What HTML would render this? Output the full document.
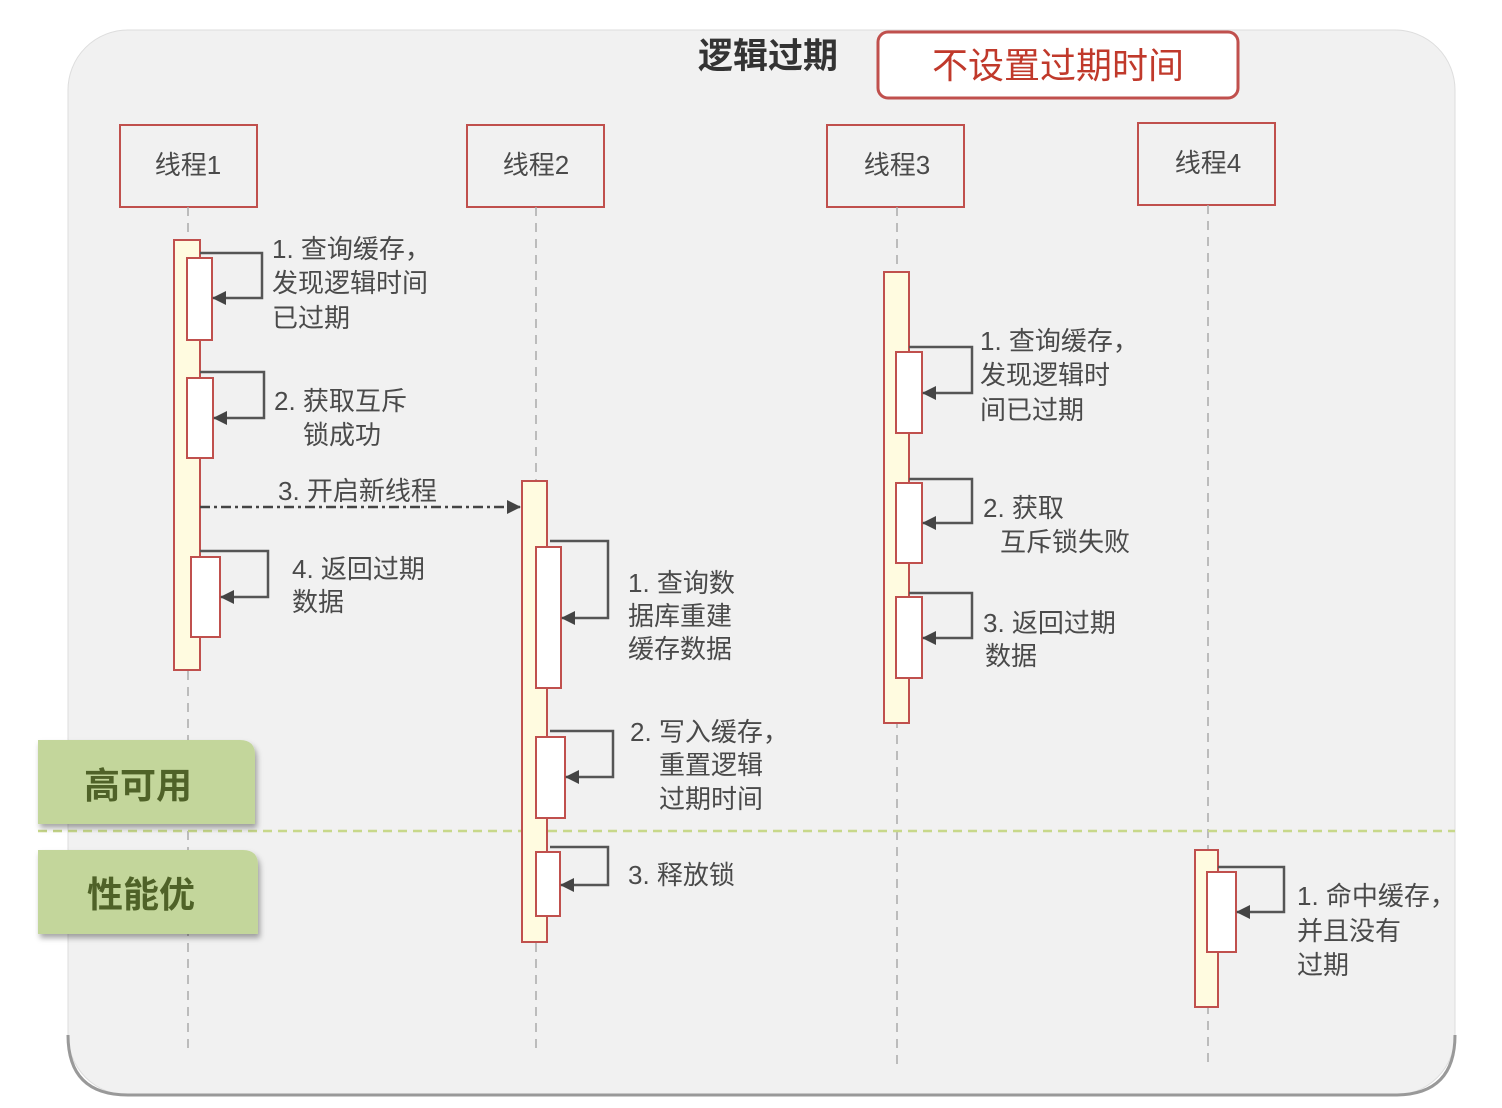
<!DOCTYPE html>
<html><head><meta charset="utf-8"><style>
html,body{margin:0;padding:0;background:#fff;}
svg{display:block;}
text{font-family:"Liberation Sans","Noto Sans CJK SC",sans-serif;}
.t{fill:#4a4a4a;font-size:26px;}
.hd{fill:#4a4a4a;font-size:26px;}
</style></head><body>
<svg width="1502" height="1108" viewBox="0 0 1502 1108" xmlns="http://www.w3.org/2000/svg">
<defs>
<marker id="ah" markerWidth="14" markerHeight="14" refX="13" refY="7" orient="auto" markerUnits="userSpaceOnUse"><path d="M0,0 L14,7 L0,14 z" fill="#444"/></marker>
<filter id="sh" x="-10%" y="-10%" width="130%" height="140%"><feDropShadow dx="2" dy="4" stdDeviation="3" flood-color="#000" flood-opacity="0.35"/></filter>
</defs>
<rect x="0" y="0" width="1502" height="1108" fill="#fff"/>
<rect x="68" y="30" width="1387" height="1065" rx="60" fill="#f1f1f1" stroke="#ddd" stroke-width="1"/>
<path d="M68,1035 Q68,1095 128,1095 L1395,1095 Q1455,1095 1455,1035" fill="none" stroke="#999" stroke-width="3"/>

<text x="698" y="68" font-size="35" font-weight="bold" fill="#333">逻辑过期</text>
<rect x="878" y="32" width="360" height="66" rx="10" fill="#fff" stroke="#c0504d" stroke-width="3"/>
<text x="1058" y="78" font-size="36" fill="#c0392b" text-anchor="middle">不设置过期时间</text>

<g fill="#f1f1f1" stroke="#c0504d" stroke-width="2">
<rect x="120" y="125" width="137" height="82"/>
<rect x="467" y="125" width="137" height="82"/>
<rect x="827" y="125" width="137" height="82"/>
<rect x="1138" y="123" width="137" height="82"/>
</g>
<text class="hd" x="188" y="174" text-anchor="middle">线程1</text>
<text class="hd" x="536" y="174" text-anchor="middle">线程2</text>
<text class="hd" x="897" y="174" text-anchor="middle">线程3</text>
<text class="hd" x="1208" y="172" text-anchor="middle">线程4</text>

<g stroke="#aaa" stroke-width="1.5" stroke-dasharray="9,7">
<line x1="188" y1="207" x2="188" y2="1048"/>
<line x1="536" y1="207" x2="536" y2="1048"/>
<line x1="897" y1="207" x2="897" y2="1065"/>
<line x1="1208" y1="205" x2="1208" y2="1065"/>
</g>

<line x1="38" y1="831" x2="1455" y2="831" stroke="#c8d88a" stroke-width="2.5" stroke-dasharray="9,6"/>

<g fill="#fffbe0" stroke="#c0504d" stroke-width="2">
<rect x="174" y="240" width="26" height="430"/>
<rect x="522" y="481" width="25" height="461"/>
<rect x="884" y="272" width="25" height="451"/>
<rect x="1195" y="850" width="23" height="157"/>
</g>
<g fill="#fff" stroke="#c0504d" stroke-width="2">
<rect x="187" y="258" width="25" height="82"/>
<rect x="187" y="378" width="26" height="80"/>
<rect x="191" y="557" width="29" height="80"/>
<rect x="536" y="547" width="25" height="141"/>
<rect x="536" y="737" width="29" height="81"/>
<rect x="536" y="852" width="24" height="64"/>
<rect x="896" y="352" width="26" height="81"/>
<rect x="896" y="483" width="26" height="80"/>
<rect x="896" y="597" width="26" height="81"/>
<rect x="1207" y="872" width="29" height="80"/>
</g>

<g fill="none" stroke="#555" stroke-width="2.5" marker-end="url(#ah)">
<path d="M200,253 H262 V298 H213"/>
<path d="M200,372 H264 V418 H214"/>
<path d="M200,551 H268 V597 H221"/>
<path d="M550,541 H608 V618 H562"/>
<path d="M550,731 H613 V777 H566"/>
<path d="M550,847 H608 V885 H561"/>
<path d="M909,347 H972 V393 H923"/>
<path d="M909,479 H972 V523 H923"/>
<path d="M909,593 H972 V638 H923"/>
<path d="M1218,867 H1284 V912 H1237"/>
</g>

<line x1="200" y1="507" x2="520" y2="507" stroke="#444" stroke-width="2.5" stroke-dasharray="10,4,3,4" marker-end="url(#ah)"/>
<text class="t" x="278" y="500">3. 开启新线程</text>

<text class="t"><tspan x="272" y="258">1. 查询缓存，</tspan><tspan x="272" y="292">发现逻辑时间</tspan><tspan x="272" y="327">已过期</tspan></text>
<text class="t"><tspan x="274" y="410">2. 获取互斥</tspan><tspan x="303" y="444">锁成功</tspan></text>
<text class="t"><tspan x="292" y="578">4. 返回过期</tspan><tspan x="292" y="611">数据</tspan></text>
<text class="t"><tspan x="628" y="592">1. 查询数</tspan><tspan x="628" y="625">据库重建</tspan><tspan x="628" y="658">缓存数据</tspan></text>
<text class="t"><tspan x="630" y="741">2. 写入缓存，</tspan><tspan x="659" y="774">重置逻辑</tspan><tspan x="659" y="808">过期时间</tspan></text>
<text class="t" x="628" y="884">3. 释放锁</text>
<text class="t"><tspan x="980" y="350">1. 查询缓存，</tspan><tspan x="980" y="384">发现逻辑时</tspan><tspan x="980" y="419">间已过期</tspan></text>
<text class="t"><tspan x="983" y="517">2. 获取</tspan><tspan x="1000" y="551">互斥锁失败</tspan></text>
<text class="t"><tspan x="983" y="632">3. 返回过期</tspan><tspan x="985" y="665">数据</tspan></text>
<text class="t"><tspan x="1297" y="905">1. 命中缓存，</tspan><tspan x="1297" y="940">并且没有</tspan><tspan x="1297" y="974">过期</tspan></text>

<g filter="url(#sh)" fill="#c3d69b">
<path d="M38,740 H240 Q255,740 255,755 V824 H38 Z"/>
<path d="M38,850 H243 Q258,850 258,865 V934 H38 Z"/>
</g>
<text x="138" y="798" font-size="36" font-weight="bold" fill="#4f6228" text-anchor="middle">高可用</text>
<text x="141" y="907" font-size="36" font-weight="bold" fill="#4f6228" text-anchor="middle">性能优</text>
</svg>
</body></html>
